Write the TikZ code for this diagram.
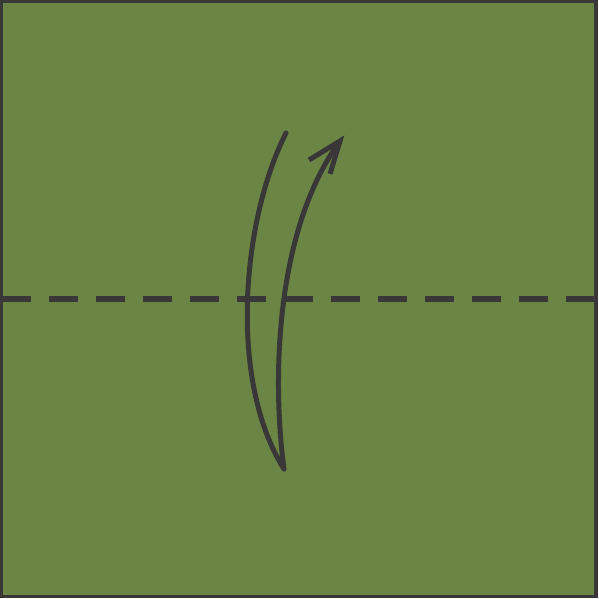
\documentclass[tikz,border=0pt]{standalone}
\begin{document}
\begin{tikzpicture}[x=1pt,y=-1pt]
\definecolor{paper}{HTML}{6B8544}
\definecolor{ink}{HTML}{3A3739}
\tikzset{
  crease/.style={ink,line width=5.5pt,dash pattern=on 29pt off 18pt},
  foldarrow/.style={ink,line width=5pt,line cap=round},
  barb/.style={ink,line width=5pt,line join=miter,line cap=butt}
}
\useasboundingbox (0,0) rectangle (599,599);
\draw[fill=paper,draw=ink,line width=3.2pt] (1.6,1.6) rectangle (596,596.5);
\coordinate (cl) at (2,299);
\coordinate (cr) at (596,299);
\draw[crease] (cl) -- (cr);
\coordinate (top) at (286,133);
\coordinate (bot) at (284,469);
\coordinate (tip) at (340,141);
\coordinate (b1) at (309,160);
\coordinate (b2) at (330,174);
\draw[foldarrow] (top) .. controls (242,220) and (228,380) .. (bot);
\draw[foldarrow] (bot) .. controls (272,380) and (275,230) .. (tip);
\draw[barb] (b1) -- (tip) -- (b2);
\end{tikzpicture}
\end{document}
